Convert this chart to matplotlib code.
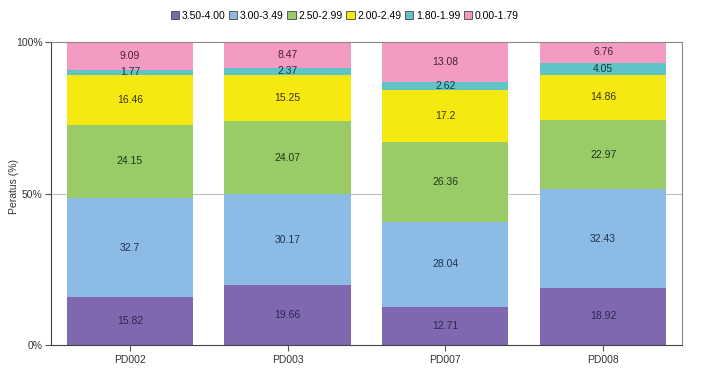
import numpy as np
import matplotlib.pyplot as plt
from matplotlib.patches import Patch

plt.rcParams["font.family"] = ["Liberation Sans", "DejaVu Sans"]
plt.rcParams["font.size"] = 7

sites = ["PD002", "PD003", "PD007", "PD008"]
groups = ["3.50-4.00", "3.00-3.49", "2.50-2.99", "2.00-2.49", "1.80-1.99", "0.00-1.79"]
v_350_400 = [15.82, 19.66, 12.71, 18.92]
v_300_349 = [32.7, 30.17, 28.04, 32.43]
v_250_299 = [24.15, 24.07, 26.36, 22.97]
v_200_249 = [16.46, 15.25, 17.2, 14.86]
v_180_199 = [1.77, 2.37, 2.62, 4.05]
v_000_179 = [9.09, 8.47, 13.08, 6.76]
series = [v_350_400, v_300_349, v_250_299, v_200_249, v_180_199, v_000_179]

colors = ["#7f68b0", "#8cbbe6", "#99cc66", "#f5e911", "#5fc3c7", "#f39bc3"]
text_colors = ["#2e2450", "#1f3550", "#22361a", "#3a3605", "#153a3c", "#4a1f33"]

fig = plt.figure(figsize=(7.02, 3.74), dpi=100)
ax = fig.add_axes([0.0726, 0.0775, 0.8989, 0.8102])

x = np.arange(len(sites))
bottom = np.zeros(len(sites))
for vals, c, tc in zip(series, colors, text_colors):
    vals = np.array(vals)
    ax.bar(x, vals, 0.8, bottom=bottom, color=c, edgecolor="none", zorder=2)
    for xi, b, v in zip(x, bottom, vals):
        ax.text(xi, b + v / 2, f"{v:g}", ha="center", va="center",
                fontsize=7.5, color=tc, zorder=3)
    bottom += vals

ax.set_xlim(-0.5, len(sites) - 0.5)
ax.set_ylim(0, 100)
ax.set_xticks(x)
ax.set_xticklabels(sites, color="#333333")
ax.set_yticks([0, 50, 100])
ax.set_yticklabels(["0%", "50%", "100%"], color="#333333")
ax.axhline(50, color="#c0c0c0", linewidth=0.8, zorder=1)
ax.tick_params(axis="both", length=4, width=0.8, color="#555555", labelsize=7.5)
ax.tick_params(axis="y", pad=2)
fig.text(14 / 702, 0.5, "Peratus (%)", rotation=90, ha="center", va="center",
         color="#333333", fontsize=7.5)

for side in ["left", "bottom"]:
    ax.spines[side].set_color("#444444")
for side in ["top", "right"]:
    ax.spines[side].set_color("#888888")
for s in ax.spines.values():
    s.set_linewidth(0.8)

handles = [Patch(facecolor=c, edgecolor="#444444", linewidth=0.6) for c in colors]
fig.legend(handles, groups, loc="center", bbox_to_anchor=(0.491, 0.957), ncol=6,
           frameon=False, fontsize=7.5, handlelength=0.8, handleheight=0.8,
           handletextpad=0.25, columnspacing=0.35)

fig.savefig("out.png", dpi=100)
